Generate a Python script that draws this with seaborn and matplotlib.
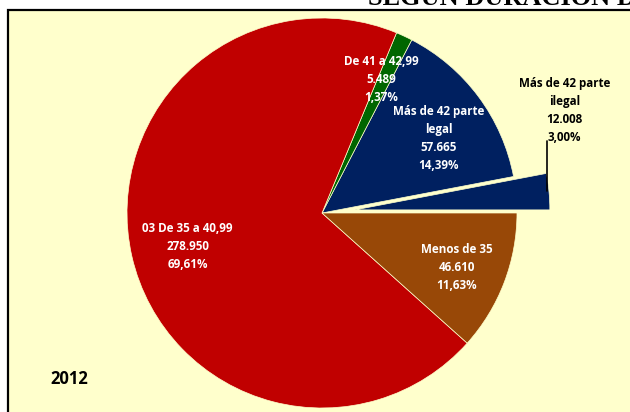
import numpy as np
import matplotlib
matplotlib.use("Agg")
import matplotlib.pyplot as plt
import seaborn as sns
from matplotlib.patches import Rectangle

# --- datos (orden antihorario desde las 3 en punto) ---
categorias = ["Más de 42 parte\nilegal", "Más de 42 parte\nlegal", "De 41 a 42,99",
              "03 De 35 a 40,99", "Menos de 35"]
valores = [12008, 57665, 5489, 278950, 46610]
porcentajes = ["3,00%", "14,39%", "1,37%", "69,61%", "11,63%"]
colores = ["#002060", "#002060", "#006600", "#C00000", "#984807"]
anio = "2012"
titulo = "SEGÚN DURACIÓN DE LA JORNADA"

sns.set_theme(style="white")
plt.rcParams['font.family'] = ['Open Sans', 'DejaVu Sans']

W, H = 630, 412
fig = plt.figure(figsize=(W / 100, H / 100), dpi=100)
fig.patch.set_facecolor("white")
ax = fig.add_axes([0, 0, 1, 1])

# marco amarillo (coordenadas en píxeles, y hacia arriba)
ax.add_patch(Rectangle((8, -20), 700, H - 10 + 20, facecolor="#FFFFCC",
                       edgecolor="black", linewidth=1.6, zorder=0))

cx, cy, R = 322, H - 213, 195
explotar = [33, 0, 0, 0, 0]  # desplazamiento en las mismas unidades que el radio
wedges, _ = ax.pie(valores, colors=colores, explode=explotar, startangle=0,
                   counterclock=True, center=(cx, cy), radius=R, frame=True,
                   wedgeprops=dict(edgecolor="#FFFFCC", linewidth=0.5))

def fmt_miles(v):
    return f"{v:,}".replace(",", ".")

TAM = 8.4
ESP = 1.5

# posición de etiquetas: fracción del radio y desplazamiento angular
frac_r = [None, 0.71, 0.75, 0.71, 0.745]
d_ang = [0, -4, 1, 1, -1]
for i, w in enumerate(wedges):
    texto = f"{categorias[i]}\n{fmt_miles(valores[i])}\n{porcentajes[i]}"
    if frac_r[i] is None:
        # etiqueta externa con línea guía para la porción separada
        ex, ey = w.center
        px = ex + R * np.cos(np.deg2rad(w.theta2)) + 1
        py = ey + R * np.sin(np.deg2rad(w.theta2))
        ax.plot([px, px], [py - 18, py + 32], color="black", lw=1.2, zorder=5)
        ax.text(px + 17, py + 29, texto, ha="center", va="bottom", fontsize=TAM,
                fontweight="bold", color="black", linespacing=ESP)
        continue
    mid = np.deg2rad((w.theta1 + w.theta2) / 2 + d_ang[i])
    tx = cx + frac_r[i] * R * np.cos(mid)
    ty = cy + frac_r[i] * R * np.sin(mid)
    ax.text(tx, ty, texto, ha="center", va="center", fontsize=TAM,
            fontweight="bold", color="white", linespacing=ESP)

ax.text(69, H - 379, anio, ha="center", va="center", fontsize=12,
        fontweight="bold", color="black")

ax.text(368, H - 5, titulo, ha="left", va="baseline", fontsize=19,
        fontweight="bold", color="black", family="Liberation Serif")

ax.set_xlim(0, W)
ax.set_ylim(0, H)
ax.set_aspect("equal")
ax.axis("off")

fig.savefig("out.png", dpi=100)
